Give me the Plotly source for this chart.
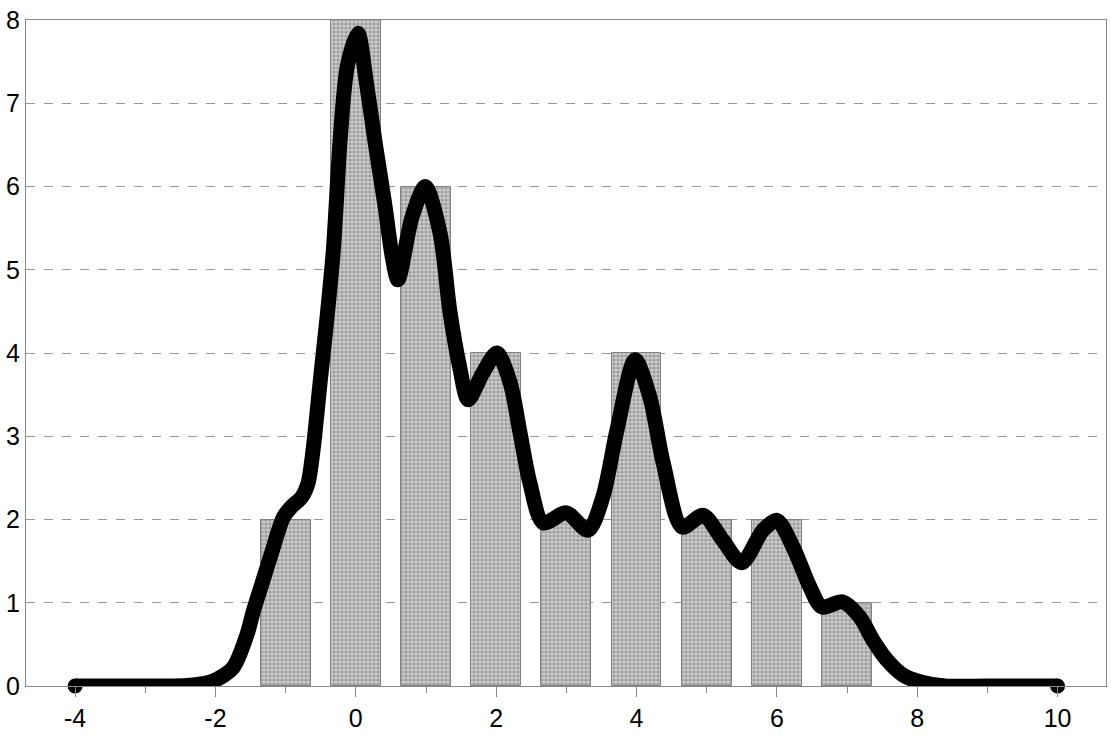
import plotly.graph_objects as go

# Histogram bars
bar_x = [-1, 0, 1, 2, 3, 4, 5, 6, 7]
bar_h = [2, 8, 6, 4, 2, 4, 2, 2, 1]

# Density curve
curve_x = [-4.0, -3.0, -2.4, -2.03, -1.75, -1.55, -1.46, -1.33, -1.2, -1.03, -0.92, -0.77,
           -0.68, -0.61, -0.51, -0.41, -0.32, -0.22, -0.12, 0.03, 0.15, 0.28, 0.41, 0.52, 0.6,
           0.8, 0.99, 1.2, 1.34, 1.48, 1.6, 1.81, 2.01, 2.2, 2.34, 2.48, 2.67, 3.0, 3.31,
           3.52, 3.72, 3.98, 4.19, 4.38, 4.65, 4.95, 5.23, 5.5, 5.8, 6.0, 6.23, 6.47, 6.64,
           6.94, 7.18, 7.37, 7.57, 7.8, 8.04, 8.4, 9.0, 10.0]
curve_y = [0.0, 0.0, 0.005, 0.06, 0.22, 0.62, 0.9, 1.25, 1.6, 2.03, 2.15, 2.27,
           2.44, 2.83, 3.64, 4.43, 5.24, 6.6, 7.45, 7.84, 7.25, 6.5, 5.8, 5.15, 4.88,
           5.63, 6.0, 5.44, 4.5, 3.83, 3.44, 3.76, 4.0, 3.64, 3.04, 2.44, 1.96, 2.08, 1.87,
           2.27, 3.07, 3.92, 3.47, 2.68, 1.91, 2.05, 1.75, 1.48, 1.87, 1.99, 1.67, 1.19, 0.95,
           1.01, 0.83, 0.55, 0.31, 0.13, 0.05, 0.0, 0.0, 0.0]

x_ticks = [-4, -2, 0, 2, 4, 6, 8, 10]
y_ticks = [0, 1, 2, 3, 4, 5, 6, 7, 8]

fig = go.Figure()
fig.add_trace(go.Bar(
    x=bar_x, y=bar_h, width=0.71,
    marker=dict(color="#c4c4c4",
                line=dict(color="#808080", width=1),
                pattern=dict(shape=".", fgcolor="#ffffff", bgcolor="#a0a0a0",
                             size=4, solidity=0.5)),
    showlegend=False, hoverinfo="skip"))
fig.add_trace(go.Scatter(
    x=curve_x, y=curve_y, mode="lines",
    line=dict(color="black", width=15, shape="spline", smoothing=0.8),
    showlegend=False, hoverinfo="skip"))
fig.add_trace(go.Scatter(
    x=[curve_x[0], curve_x[-1]], y=[curve_y[0], curve_y[-1]], mode="markers",
    marker=dict(color="black", size=15, line=dict(width=0)),
    showlegend=False, hoverinfo="skip", cliponaxis=False))

fig.update_layout(
    width=1111, height=738,
    margin=dict(l=26, r=5, t=20, b=52, autoexpand=False),
    paper_bgcolor="white", plot_bgcolor="white",
    font=dict(family="Liberation Sans, Arial, sans-serif", size=25, color="black"),
    bargap=0,
    xaxis=dict(range=[-4.70, 10.69], tickvals=x_ticks, ticktext=[str(v) for v in x_ticks],
               ticks="outside", ticklen=10, tickcolor="#888888", tickwidth=1,
               minor=dict(dtick=1, tick0=0, ticks="outside", ticklen=6, tickcolor="#888888",
                          showgrid=False),
               showgrid=False, zeroline=False, showline=True, linecolor="#888888",
               linewidth=1, mirror=True, automargin=False),
    yaxis=dict(range=[0, 8], tickvals=y_ticks, ticks="", showgrid=True,
               gridcolor="#999999", griddash="dash", gridwidth=1, zeroline=False,
               showline=True, linecolor="#888888", linewidth=1, mirror=True,
               ticklabelstandoff=0, ticklabeloverflow="allow", automargin=False),
)
# remove the page's default 8px body margin so the figure fills the window exactly
fig.write_html("out.html", config={"displayModeBar": False},
               post_script="document.body.style.margin='0';document.body.style.overflow='hidden';")
